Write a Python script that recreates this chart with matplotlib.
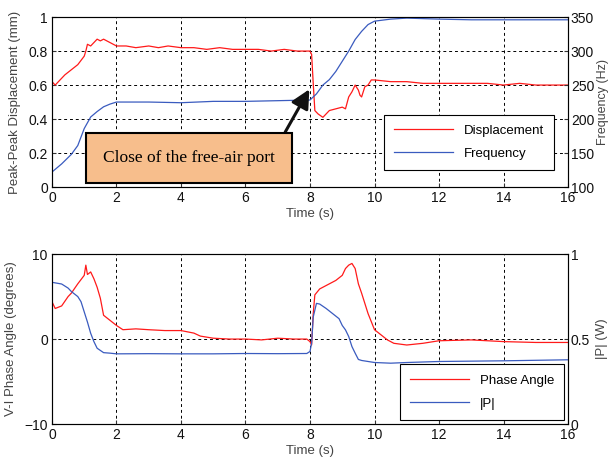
import matplotlib
matplotlib.use('Agg')
import matplotlib.pyplot as plt

plt.rcParams['font.family'] = ['Liberation Sans', 'DejaVu Sans']

# --- top panel: displacement (mm) and frequency (Hz) ---
t_disp = [0, 0.1, 0.2, 0.4, 0.6, 0.8, 1.0, 1.05, 1.1, 1.2, 1.3, 1.4, 1.5, 1.6, 1.7, 1.8, 1.9, 2.0,
          2.3, 2.6, 3.0, 3.3, 3.6, 4.0, 4.4, 4.8, 5.2, 5.6, 6.0, 6.4, 6.8, 7.2, 7.6, 8.0,
          8.05, 8.1, 8.15, 8.25, 8.4, 8.5, 8.6, 8.8, 9.0, 9.1, 9.2, 9.3, 9.4, 9.5, 9.55, 9.6,
          9.7, 9.8, 9.9, 10.0, 10.5, 11, 11.5, 12, 12.5, 13, 13.5, 14, 14.5, 15, 15.5, 16]
disp = [0.62, 0.60, 0.62, 0.66, 0.69, 0.72, 0.77, 0.80, 0.84, 0.83, 0.85, 0.87, 0.86, 0.87, 0.86, 0.85, 0.84, 0.83,
        0.83, 0.82, 0.83, 0.82, 0.83, 0.82, 0.82, 0.81, 0.82, 0.81, 0.81, 0.81, 0.80, 0.81, 0.80, 0.80,
        0.78, 0.61, 0.45, 0.43, 0.41, 0.43, 0.45, 0.46, 0.47, 0.46, 0.53, 0.56, 0.60, 0.57, 0.54, 0.53,
        0.59, 0.60, 0.63, 0.63, 0.62, 0.62, 0.61, 0.61, 0.61, 0.61, 0.61, 0.60, 0.61, 0.60, 0.60, 0.60]

t_freq = [0, 0.3, 0.6, 0.8, 1.0, 1.2, 1.4, 1.6, 1.8, 2.0, 3, 4, 5, 6, 7, 8.0,
          8.2, 8.4, 8.6, 8.8, 9.0, 9.2, 9.4, 9.6, 9.8, 10.0, 10.5, 11, 12, 13, 14, 15, 16]
freq = [122, 134, 148, 161, 186, 203, 211, 218, 222, 225, 225, 224, 226, 226, 227, 228,
        237, 250, 258, 270, 285, 300, 317, 329, 339, 344, 347, 348.5, 347, 346, 346, 346, 346]

# --- bottom panel: phase angle (deg) and |P| (W) ---
t_phase = [0, 0.1, 0.3, 0.5, 0.6, 0.8, 1.0, 1.05, 1.1, 1.2, 1.3, 1.4, 1.5, 1.6, 1.8, 2.0,
           2.2, 2.6, 3.0, 3.5, 4.0, 4.4, 4.6, 5.0, 5.5, 6.0, 6.5, 7.0, 7.5, 7.9, 8.0,
           8.05, 8.1, 8.15, 8.3, 8.6, 8.8, 9.0, 9.1, 9.2, 9.3, 9.4, 9.5, 9.6, 9.8, 10.0,
           10.2, 10.4, 10.6, 11.0, 11.5, 12, 13, 14, 15, 16]
phase = [4.4, 3.6, 3.9, 5.0, 5.4, 6.5, 7.5, 8.7, 7.6, 7.9, 7.1, 6.1, 4.8, 2.8, 2.2, 1.6,
         1.1, 1.2, 1.1, 1.0, 1.0, 0.7, 0.35, 0.1, 0.0, 0.0, -0.1, 0.1, 0.0, 0.0, -0.3,
         -0.7, 3.0, 5.2, 5.9, 6.5, 6.9, 7.5, 8.3, 8.7, 8.9, 8.3, 6.5, 5.4, 3.0, 1.1,
         0.5, -0.1, -0.5, -0.7, -0.5, -0.2, -0.1, -0.3, -0.4, -0.4]

t_power = [0, 0.3, 0.5, 0.6, 0.8, 0.9, 1.0, 1.1, 1.2, 1.3, 1.4, 1.6, 1.8, 2.0,
           3, 4, 5, 6, 7, 7.9, 8.0, 8.05, 8.1, 8.2, 8.3, 8.5, 8.7, 8.9, 9.0,
           9.1, 9.2, 9.3, 9.4, 9.5, 9.6, 10.0, 10.5, 11, 12, 14, 16]
power = [0.834, 0.824, 0.80, 0.78, 0.75, 0.72, 0.66, 0.60, 0.534, 0.485, 0.446, 0.42, 0.417, 0.413,
         0.414, 0.413, 0.413, 0.415, 0.414, 0.415, 0.427, 0.476, 0.63, 0.71, 0.706, 0.68, 0.65, 0.62, 0.58,
         0.554, 0.515, 0.456, 0.417, 0.38, 0.374, 0.362, 0.358, 0.362, 0.368, 0.372, 0.378]

red = '#ff1a1a'
blue = '#3a5bbf'
label_col = '#444444'


def style(ax):
    ax.set_xlim(0, 16)
    ax.set_xticks(range(0, 17, 2))
    ax.tick_params(direction='in', labelsize=10, length=3, pad=3,
                   colors='#333333', labelcolor='#111111')
    ax.grid(True, color='black', linestyle=(0, (3, 3)), linewidth=0.7)
    for s in ax.spines.values():
        s.set_color('#555555')
        s.set_linewidth(0.8)
    ax.set_xlabel('Time (s)', fontsize=9.5, color=label_col, labelpad=2)


fig = plt.figure(figsize=(6.1, 4.58), dpi=100)

# top
ax1 = fig.add_axes([0.0852, 0.5917, 0.846, 0.371])
ax1.plot(t_disp, disp, color=red, linewidth=0.9, label='Displacement')
ax1.set_ylim(0, 1)
ax1.set_yticks([0, 0.2, 0.4, 0.6, 0.8, 1])
ax1.set_yticklabels(['0', '0.2', '0.4', '0.6', '0.8', '1'])
style(ax1)
ax1.set_ylabel('Peak-Peak Displacement (mm)', fontsize=9.5, color=label_col, labelpad=5)

ax1r = ax1.twinx()
l2, = ax1r.plot(t_freq, freq, color=blue, linewidth=0.9, label='Frequency')
ax1r.set_ylim(100, 350)
ax1r.set_yticks(range(100, 351, 50))
ax1r.tick_params(direction='in', labelsize=10, length=3, pad=2,
                 colors='#333333', labelcolor='#111111')
ax1r.set_ylabel('Frequency (Hz)', fontsize=9, color=label_col, labelpad=2)

h1, lab1 = ax1.get_legend_handles_labels()
leg = ax1r.legend(h1 + [l2], lab1 + ['Frequency'], loc='lower right',
                  bbox_to_anchor=(0.973, 0.10), borderaxespad=0, fontsize=9.5, fancybox=False,
                  edgecolor='black', framealpha=1, handlelength=4.5, borderpad=0.75,
                  labelspacing=0.85)
leg.get_frame().set_linewidth(0.8)

ax1r.annotate('Close of the free-air port', xy=(7.98, 0.575), xycoords=ax1.transData,
              xytext=(4.25, 0.17), textcoords=ax1.transData,
              fontsize=12.5, family='Liberation Serif', ha='center', va='center',
              bbox=dict(boxstyle='square,pad=1.0', fc='#f7be8c', ec='black', lw=1.5),
              arrowprops=dict(arrowstyle='-|>,head_length=0.9,head_width=0.45',
                              color='#111111', lw=2.2, shrinkA=0, shrinkB=0,
                              relpos=(1.0, 1.0)))

# bottom
ax2 = fig.add_axes([0.0852, 0.0742, 0.846, 0.371])
ax2.plot(t_phase, phase, color=red, linewidth=0.9, label='Phase Angle')
ax2.set_ylim(-10, 10)
ax2.set_yticks([-10, 0, 10])
style(ax2)
ax2.set_ylabel('V-I Phase Angle (degrees)', fontsize=9.5, color=label_col, labelpad=5)

ax2r = ax2.twinx()
l4, = ax2r.plot(t_power, power, color=blue, linewidth=0.9, label='|P|')
ax2r.set_ylim(0, 1)
ax2r.set_yticks([0, 0.5, 1])
ax2r.set_yticklabels(['0', '0.5', '1'])
ax2r.tick_params(direction='in', labelsize=10, length=3, pad=2,
                 colors='#333333', labelcolor='#111111')
ax2r.set_ylabel('|P| (W)', fontsize=9.5, color=label_col, labelpad=4)

h3, lab3 = ax2.get_legend_handles_labels()
leg2 = ax2r.legend(h3 + [l4], lab3 + ['|P|'], loc='lower right',
                   bbox_to_anchor=(0.992, 0.024), borderaxespad=0, fontsize=9.5, fancybox=False,
                   edgecolor='black', framealpha=1, handlelength=4.5, borderpad=0.75,
                   labelspacing=0.85)
leg2.get_frame().set_linewidth(0.8)

fig.savefig('out.png', dpi=100)
